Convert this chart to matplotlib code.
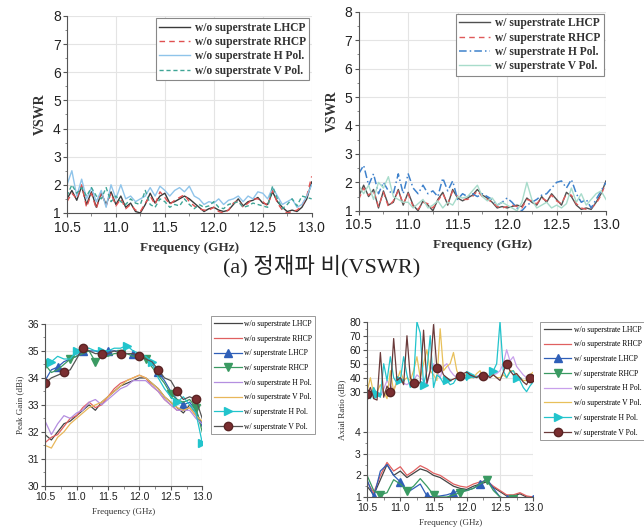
import numpy as np
import matplotlib
matplotlib.use('Agg')
import matplotlib.pyplot as plt
from matplotlib.ticker import AutoMinorLocator, FixedLocator

plt.rcParams['font.family'] = ['Liberation Sans', 'DejaVu Sans']

# frequency grids (GHz)
freq_fine = np.linspace(10.5, 13.0, 51)
freq_coarse = np.linspace(10.5, 13.0, 26)

# VSWR, without superstrate
vswr_wo_lhcp = [1.5, 1.8, 1.45, 1.95, 1.3, 1.75, 1.2, 1.7, 1.3, 1.75, 1.3, 1.6, 1.2, 1.35, 1.05, 1.0, 1.3,
                1.7, 1.35, 1.6, 1.7, 1.35, 1.4, 1.5, 1.6, 1.5, 1.35, 1.2, 1.05, 1.15, 1.2, 1.1, 1.05, 1.1,
                1.3, 1.5, 1.25, 1.4, 1.45, 1.55, 1.35, 1.3, 1.75, 1.4, 1.2, 1.05, 1.1, 1.05, 1.2, 1.5, 2.1]
vswr_wo_rhcp = [1.4, 1.7, 1.5, 2.0, 1.2, 1.7, 1.15, 1.75, 1.25, 1.7, 1.25, 1.5, 1.15, 1.3, 1.1, 1.05, 1.35,
                1.6, 1.3, 1.75, 1.55, 1.3, 1.45, 1.55, 1.65, 1.4, 1.25, 1.15, 1.1, 1.1, 1.2, 1.05, 1.0, 1.1,
                1.35, 1.45, 1.2, 1.35, 1.5, 1.5, 1.4, 1.25, 1.8, 1.35, 1.1, 1.0, 1.05, 1.1, 1.25, 1.6, 2.3]
vswr_wo_h = [2.0, 2.5, 1.6, 2.2, 1.5, 1.9, 1.4, 1.8, 1.2, 2.0, 1.5, 2.0, 1.5, 1.6, 1.4, 1.5, 1.6,
             1.9, 1.6, 1.95, 1.8, 1.6, 1.8, 1.9, 1.75, 1.95, 1.6, 1.5, 1.3, 1.4, 1.35, 1.5, 1.3, 1.45,
             1.5, 1.6, 1.4, 1.6, 1.5, 1.75, 1.7, 1.5, 1.9, 1.6, 1.3, 1.4, 1.5, 1.2, 1.3, 1.6, 2.0]
vswr_wo_v = [1.6, 2.0, 1.7, 1.9, 1.6, 1.9, 1.6, 1.5, 1.9, 1.4, 1.6, 1.4, 1.3, 1.5, 1.35, 1.3, 1.8,
             1.3, 1.2, 1.5, 1.4, 1.2, 1.3, 1.25, 1.5, 1.3, 1.15, 1.3, 1.2, 1.25, 1.4, 1.2, 1.15, 1.3,
             1.35, 1.4, 1.2, 1.25, 1.35, 1.3, 1.25, 1.2, 1.95, 1.5, 1.15, 1.3, 1.5, 1.25, 1.6, 1.55, 1.5]

# VSWR, with superstrate
vswr_w_lhcp = [1.5, 1.9, 1.5, 1.75, 1.1, 1.7, 1.2, 1.3, 1.75, 1.2, 1.65, 1.2, 1.0, 1.35, 1.2, 1.0, 1.4,
               1.65, 1.2, 1.75, 1.45, 1.35, 1.45, 1.55, 1.75, 1.55, 1.45, 1.3, 1.1, 1.15, 1.1, 1.15, 1.2,
               1.15, 1.45, 1.3, 1.2, 1.5, 1.3, 1.6, 1.4, 1.2, 1.65, 1.5, 1.2, 1.05, 1.1, 1.05, 1.3, 1.6, 2.05]
vswr_w_rhcp = [1.4, 1.8, 1.55, 1.7, 1.15, 1.65, 1.15, 1.35, 1.7, 1.25, 1.6, 1.15, 1.05, 1.3, 1.25, 1.1,
               1.35, 1.6, 1.25, 1.7, 1.5, 1.4, 1.4, 1.5, 1.7, 1.5, 1.4, 1.3, 1.15, 1.1, 1.15, 1.2, 1.15,
               1.1, 1.4, 1.35, 1.25, 1.45, 1.35, 1.55, 1.35, 1.25, 1.6, 1.55, 1.25, 1.1, 1.05, 1.1, 1.25,
               1.55, 2.0]
vswr_w_h = [2.3, 2.6, 1.9, 2.3, 1.6, 2.0, 1.7, 1.6, 2.3, 1.6, 2.3, 1.8, 1.6, 1.9, 1.6, 1.7, 1.5,
            2.15, 1.7, 2.05, 1.4, 1.6, 1.5, 1.6, 1.5, 1.6, 1.5, 1.4, 1.2, 1.3, 1.45, 1.3, 1.1, 1.0,
            1.2, 1.3, 1.4, 1.55, 1.6, 1.8, 2.0, 2.05, 1.8, 2.1, 1.6, 1.3, 1.4, 1.1, 1.4, 1.7, 2.0]
vswr_w_v = [1.9, 1.6, 1.9, 1.4, 2.0, 1.8, 2.2, 1.5, 1.4, 1.3, 1.3, 1.1, 1.25, 1.4, 1.1, 1.2, 1.35,
            1.1, 1.3, 1.2, 1.5, 1.45, 1.5, 1.7, 1.9, 1.5, 1.35, 1.45, 1.2, 1.3, 1.2, 1.1, 1.0, 1.3,
            2.0, 1.4, 1.1, 1.2, 1.3, 1.1, 1.2, 1.1, 1.25, 1.8, 1.3, 1.6, 1.2, 1.4, 1.6, 1.7, 1.4]

# Peak gain (dBi)
gain_wo_lhcp = [31.9, 31.7, 32.0, 32.3, 32.4, 32.6, 32.8, 33.0, 32.8, 33.1, 33.3, 33.5, 33.7, 33.8, 33.9,
                34.0, 34.0, 33.8, 33.6, 33.3, 33.1, 32.9, 32.7, 33.0, 32.7, 32.3]
gain_wo_rhcp = [31.6, 31.8, 31.9, 32.2, 32.5, 32.6, 32.9, 33.1, 32.9, 33.0, 33.3, 33.6, 33.8, 33.9, 34.0,
                34.1, 34.0, 33.7, 33.5, 33.2, 33.0, 32.8, 32.8, 32.9, 32.6, 32.2]
gain_w_lhcp = [33.9, 34.3, 34.4, 34.6, 34.7, 34.8, 35.0, 35.0, 35.0, 34.9, 35.0, 35.0, 35.0, 34.9, 34.9,
               34.8, 34.7, 34.5, 34.2, 33.9, 33.5, 33.2, 33.0, 33.1, 32.8, 32.2]
gain_w_rhcp = [34.5, 34.2, 34.3, 34.5, 34.7, 34.8, 34.9, 35.0, 34.6, 34.8, 34.8, 34.9, 34.9, 34.9, 34.8,
               34.8, 34.7, 34.4, 34.1, 33.8, 33.4, 33.2, 33.1, 33.2, 32.9, 32.0]
gain_wo_h = [32.4, 31.9, 32.3, 32.6, 32.5, 32.7, 32.8, 33.1, 33.2, 33.0, 33.2, 33.4, 33.6, 33.7, 33.9,
             33.9, 33.9, 33.7, 33.5, 33.2, 33.0, 32.8, 32.8, 32.8, 32.5, 32.3]
gain_wo_v = [31.5, 31.4, 31.8, 32.0, 32.3, 32.5, 32.7, 32.9, 33.0, 33.1, 33.3, 33.5, 33.7, 33.9, 34.0,
             34.1, 34.0, 33.8, 33.6, 33.3, 33.1, 32.9, 32.8, 32.9, 32.6, 32.4]
gain_w_h = [34.7, 34.6, 34.8, 34.7, 34.7, 35.0, 35.1, 35.1, 35.0, 35.0, 35.0, 35.1, 35.1, 35.2, 35.0,
            34.9, 34.8, 34.6, 34.0, 33.6, 33.3, 33.1, 33.3, 33.0, 32.7, 31.6]
gain_w_v = [33.8, 34.0, 34.1, 34.2, 34.3, 34.7, 35.1, 35.0, 34.9, 34.9, 34.9, 35.0, 34.9, 34.9, 34.9,
            34.8, 34.7, 34.6, 34.3, 34.0, 33.9, 33.5, 33.2, 33.3, 33.2, 32.5]

# Axial ratio (dB), circular pol. curves on the coarse grid
ar_wo_lhcp = [1.5, 1.1, 1.8, 2.5, 2.0, 2.2, 1.9, 2.1, 2.3, 2.2, 2.0, 1.9, 1.7, 1.5, 1.4, 1.35, 1.5, 1.6,
              1.7, 1.45, 1.25, 1.05, 1.05, 1.15, 1.0, 1.0]
ar_wo_rhcp = [1.7, 1.2, 2.0, 2.6, 2.2, 2.4, 2.0, 2.2, 2.45, 2.3, 2.1, 2.0, 1.8, 1.6, 1.5, 1.45, 1.6, 1.7,
              1.75, 1.5, 1.3, 1.1, 1.1, 1.2, 1.05, 1.0]
ar_w_lhcp = [1.8, 1.0, 2.2, 2.5, 2.0, 1.7, 1.2, 1.4, 1.6, 1.05, 1.0, 1.05, 1.1, 1.2, 1.3, 1.3, 1.4, 1.6,
             1.85, 1.4, 1.0, 0.9, 0.9, 0.9, 0.9, 0.9]
ar_w_rhcp = [2.0, 1.3, 1.1, 1.2, 1.8, 1.6, 1.3, 1.5, 1.85, 1.5, 1.1, 1.0, 1.0, 1.1, 1.2, 1.3, 1.4, 1.6,
             1.8, 1.3, 1.0, 0.9, 0.9, 0.9, 0.9, 0.9]
# linear pol. curves on the fine grid
ar_wo_h = [28, 30, 30, 27, 27, 32, 38, 34, 32, 36, 40, 36, 35, 37, 38, 42, 40, 38, 35, 45, 50, 45, 40,
           48, 50, 45, 42, 40, 40, 41, 42, 41, 40, 41, 42, 40, 40, 41, 42, 43, 45, 50, 60, 52, 55, 48,
           45, 42, 40, 40, 40]
ar_wo_v = [30, 40, 28, 30, 35, 30, 25, 45, 30, 38, 45, 38, 40, 38, 45, 55, 40, 50, 60, 45, 42, 38, 75,
           45, 48, 50, 58, 45, 40, 42, 42, 40, 40, 43, 45, 40, 40, 42, 42, 40, 40, 42, 40, 45, 45, 42,
           40, 38, 38, 42, 44]
ar_w_h = [30, 25, 33, 28, 26, 50, 38, 55, 40, 36, 38, 55, 42, 33, 38, 80, 72, 35, 45, 70, 33, 42, 40,
          36, 38, 35, 36, 40, 38, 42, 38, 42, 40, 41, 40, 38, 40, 42, 45, 50, 80, 45, 40, 44, 45, 40,
          38, 33, 30, 34, 37]
ar_w_v = [28, 33, 25, 24, 58, 26, 34, 30, 68, 38, 40, 35, 70, 40, 36, 34, 37, 74, 36, 45, 78, 47, 48,
          42, 40, 38, 39, 40, 41, 43, 44, 42, 41, 40, 42, 41, 42, 40, 42, 40, 38, 44, 50, 45, 42, 43,
          40, 37, 35, 40, 42]

serif = ['Liberation Serif', 'DejaVu Serif']
caption = '(a) 정재파 비(VSWR)'
freq_ticks = [10.5, 11.0, 11.5, 12.0, 12.5, 13.0]
freq_labels = ['10.5', '11.0', '11.5', '12.0', '12.5', '13.0']


def style_axes(ax, fs):
    ax.grid(True, color='#e4e4e4', linewidth=0.8)
    ax.set_axisbelow(True)
    for side in ['top', 'right']:
        ax.spines[side].set_visible(False)
    for side in ['left', 'bottom']:
        ax.spines[side].set_color('#555555')
        ax.spines[side].set_linewidth(0.8)
    ax.tick_params(which='major', direction='out', length=3, width=0.8, colors='#555555',
                   labelsize=fs, labelcolor='#222222', pad=1.5)
    ax.tick_params(which='minor', direction='out', length=1.8, width=0.6, colors='#777777')


def small_legend(ax, anchor):
    leg = ax.legend(loc='upper left', bbox_to_anchor=anchor, prop={'family': serif, 'size': 5.5},
                    handlelength=3.6, handletextpad=0.3, labelspacing=0.88, borderpad=0.45,
                    fancybox=False, framealpha=1)
    leg.get_frame().set_edgecolor('#999999')
    leg.get_frame().set_linewidth(0.7)
    return leg


fig = plt.figure(figsize=(6.44, 5.31), dpi=100)

# ---- top left: VSWR without superstrate
ax1 = fig.add_axes([0.104, 0.599, 0.380, 0.371])
ax1.plot(freq_fine, vswr_wo_lhcp, color='#3a3a3a', lw=1.0, label='w/o superstrate LHCP')
ax1.plot(freq_fine, vswr_wo_rhcp, color='#e05050', lw=1.0, ls=(0, (4, 3)), label='w/o superstrate RHCP')
ax1.plot(freq_fine, vswr_wo_h, color='#8fc4ea', lw=1.0, label='w/o superstrate H Pol.')
ax1.plot(freq_fine, vswr_wo_v, color='#3fa596', lw=1.0, ls=(0, (3, 2)), label='w/o superstrate V Pol.')

# ---- top right: VSWR with superstrate
ax2 = fig.add_axes([0.557, 0.603, 0.384, 0.375])
ax2.plot(freq_fine, vswr_w_lhcp, color='#505050', lw=1.0, label='w/ superstrate LHCP')
ax2.plot(freq_fine, vswr_w_rhcp, color='#e05a5a', lw=1.0, ls=(0, (4, 3)), label='w/ superstrate RHCP')
ax2.plot(freq_fine, vswr_w_h, color='#3f82cc', lw=1.1, ls=(0, (5, 2, 1, 2)), label='w/ superstrate H Pol.')
ax2.plot(freq_fine, vswr_w_v, color='#a8dccb', lw=1.0, label='w/ superstrate V Pol.')

for ax in (ax1, ax2):
    style_axes(ax, 10)
    ax.tick_params(axis='x', pad=2.5)
    ax.set_xlim(10.5, 13.0)
    ax.set_ylim(1, 8)
    ax.set_xticks(freq_ticks)
    ax.set_xticklabels(freq_labels)
    ax.set_yticks(range(1, 9))
    ax.xaxis.set_minor_locator(AutoMinorLocator(2))
    ax.yaxis.set_minor_locator(AutoMinorLocator(2))
    ax.set_ylabel('VSWR', family=serif, fontweight='bold', fontsize=10, labelpad=4, color='#333333')
    ax.set_xlabel('Frequency (GHz)', family=serif, fontweight='bold', fontsize=9.5, labelpad=5,
                  color='#333333')
    leg = ax.legend(loc='upper right', bbox_to_anchor=(1.0, 1.0), prop={'family': serif, 'weight': 'bold',
                    'size': 8.3}, handlelength=2.7, handletextpad=0.4, labelspacing=0.2,
                    borderpad=0.3, borderaxespad=0.2, fancybox=False, framealpha=1)
    leg.get_frame().set_edgecolor('#888888')
    leg.get_frame().set_linewidth(0.8)
    for t in leg.get_texts():
        t.set_color('#333333')

fig.text(0.5, 0.499, caption, ha='center', va='center', fontsize=16,
         family=['Liberation Serif', 'Noto Sans CJK KR'], color='#222222')

# ---- bottom left: peak gain
ax3 = fig.add_axes([0.070, 0.085, 0.244, 0.305])
ax3.plot(freq_coarse, gain_wo_lhcp, color='#444444', lw=0.9, label='w/o superstrate LHCP')
ax3.plot(freq_coarse, gain_wo_rhcp, color='#e06060', lw=0.9, label='w/o superstrate RHCP')
ax3.plot(freq_coarse, gain_w_lhcp, color='#2f5fb8', lw=0.9, marker='^', ms=6, markevery=(2, 4),
         label='w/ superstrate LHCP')
ax3.plot(freq_coarse, gain_w_rhcp, color='#3a9a62', lw=0.9, marker='v', ms=6, markevery=(0, 4),
         label='w/ superstrate RHCP')
ax3.plot(freq_coarse, gain_wo_h, color='#b48fe0', lw=0.9, label='w/o superstrate H Pol.')
ax3.plot(freq_coarse, gain_wo_v, color='#e8b75a', lw=0.9, label='w/o superstrate V Pol.')
ax3.plot(freq_coarse, gain_w_h, color='#22c4cc', lw=0.9, marker='>', ms=6, markevery=(1, 4),
         label='w/ superstrate H Pol.')
ax3.plot(freq_coarse, gain_w_v, color='#555555', lw=0.9, marker='o', ms=6, mfc='#7a2e30', mec='#5a2424',
         markevery=(0, 3), label='w/ superstrate V Pol.')
style_axes(ax3, 7.5)
ax3.set_xlim(10.5, 13.0)
ax3.set_ylim(30, 36)
ax3.set_xticks(freq_ticks)
ax3.set_xticklabels(freq_labels)
ax3.set_yticks(range(30, 37))
ax3.xaxis.set_minor_locator(AutoMinorLocator(2))
ax3.yaxis.set_minor_locator(AutoMinorLocator(2))
ax3.set_ylabel('Peak Gain (dBi)', family=serif, fontsize=6.5, labelpad=2, color='#333333')
ax3.set_xlabel('Frequency (GHz)', family=serif, fontsize=6.5, labelpad=4, color='#333333')
small_legend(ax3, (1.03, 1.07))

# ---- bottom right: axial ratio with a broken scale
brk_y = [0.0, 1.0, 4.6, 10.7, 80.0, 200.0]
brk_t = [-21.67, 0.0, 78.0, 78.5, 175.5, 343.5]


def ar_forward(y):
    return np.interp(y, brk_y, brk_t)


def ar_inverse(t):
    return np.interp(t, brk_t, brk_y)


ax4 = fig.add_axes([0.570, 0.064, 0.258, 0.330])
ax4.set_yscale('function', functions=(ar_forward, ar_inverse))
ax4.plot(freq_coarse, ar_wo_lhcp, color='#444444', lw=0.9, label='w/o superstrate LHCP')
ax4.plot(freq_coarse, ar_wo_rhcp, color='#e06060', lw=0.9, label='w/o superstrate RHCP')
ax4.plot(freq_coarse, ar_w_lhcp, color='#2f5fb8', lw=0.9, marker='^', ms=6, markevery=(1, 4),
         label='w/ superstrate LHCP')
ax4.plot(freq_coarse, ar_w_rhcp, color='#3a9a62', lw=0.9, marker='v', ms=6, markevery=(2, 4),
         label='w/ superstrate RHCP')
ax4.plot(freq_fine, ar_wo_h, color='#c8a0ec', lw=0.9, label='w/o superstrate H Pol.')
ax4.plot(freq_fine, ar_wo_v, color='#e8c05a', lw=0.9, label='w/o superstrate V Pol.')
ax4.plot(freq_fine, ar_w_h, color='#22c4cc', lw=0.9, marker='>', ms=6, markevery=(3, 7),
         label='w/ superstrate H Pol.')
ax4.plot(freq_fine, ar_w_v, color='#6a3a3a', lw=0.9, marker='o', ms=6, mfc='#7a2e30', mec='#5a2424',
         markevery=(0, 7), label='w/ superstrate V Pol.')
style_axes(ax4, 7.5)
ax4.set_xlim(10.5, 13.0)
ax4.set_ylim(1, 80)
ax4.set_xticks(freq_ticks)
ax4.set_xticklabels(freq_labels)
ax4.yaxis.set_major_locator(FixedLocator([1, 2, 3, 4, 30, 40, 50, 60, 70, 80]))
ax4.yaxis.set_minor_locator(FixedLocator([1.5, 2.5, 3.5, 35, 45, 55, 65, 75]))
ax4.set_yticklabels(['1', '2', '3', '4', '30', '40', '50', '60', '70', '80'])
ax4.xaxis.set_minor_locator(AutoMinorLocator(2))
ax4.set_ylabel('Axial Ratio (dB)', family=serif, fontsize=6.5, labelpad=2, color='#333333')
ax4.set_xlabel('Frequency (GHz)', family=serif, fontsize=6.5, labelpad=4, color='#333333')
small_legend(ax4, (1.02, 1.02))

fig.savefig('out.png', dpi=100)
